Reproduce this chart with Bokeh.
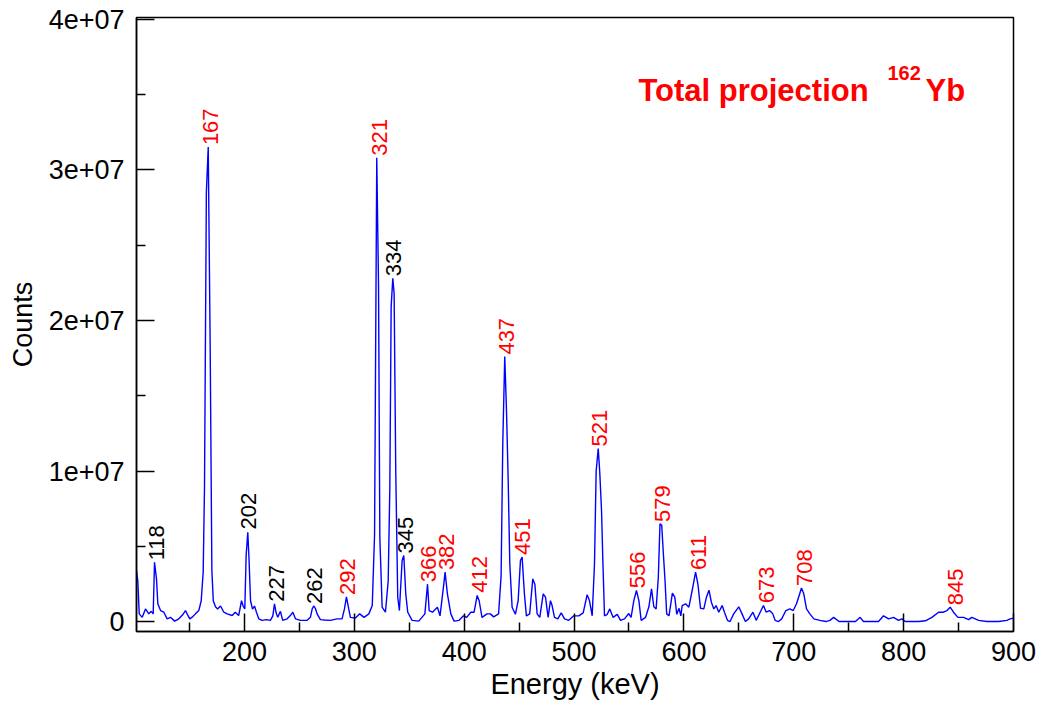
import math
from bokeh.plotting import figure
from bokeh.models import Range1d, FixedTicker, Label, ColumnDataSource
from bokeh.core.properties import value
from bokeh.embed import file_html
from bokeh.resources import INLINE

# ---- spectrum (keV, counts) ----
energy_kev = [
    101.7, 102.9, 104.2, 106.9, 109.9, 112.9, 115.1, 116.9, 118.1, 119.9,
    121.1, 123.6, 126.6, 129.6, 132.6, 136.5, 140.2, 143.5, 146.3, 148.0,
    150.2, 153.0, 155.4, 158.4, 160.6, 162.4, 163.6, 165.3, 167.0, 168.8,
    170.3, 171.6, 173.6, 175.5, 178.2, 181.2, 184.2, 188.8, 191.6, 194.7,
    197.3, 198.8, 200.3, 201.5, 203.0, 204.1, 205.5, 207.3, 209.1, 210.9,
    213.0, 216.0, 220.0, 223.6, 225.8, 227.3, 228.8, 230.3, 232.7, 234.8,
    238.8, 241.5, 244.0, 246.4, 251.0, 257.0, 260.0, 261.6, 263.0, 264.5,
    266.1, 269.1, 273.0, 278.2, 284.3, 288.8, 291.0, 292.8, 294.9, 296.4,
    301.0, 304.9, 308.8, 313.2, 316.3, 318.4, 319.2, 320.4, 322.0, 323.2,
    325.3, 328.3, 330.8, 332.3, 333.5, 335.0, 336.2, 337.7, 339.5, 341.0,
    343.5, 345.0, 346.8, 348.6, 352.6, 358.6, 364.2, 366.6, 368.1, 371.1,
    375.6, 378.0, 381.1, 382.6, 384.7, 387.8, 390.8, 395.4, 399.3, 402.3,
    406.0, 409.0, 411.8, 413.6, 416.2, 420.8, 423.8, 426.8, 431.3, 433.6,
    435.1, 436.9, 438.5, 440.0, 441.5, 443.6, 446.6, 449.1, 451.2, 452.7,
    454.8, 456.6, 459.6, 462.4, 464.3, 466.4, 468.8, 471.9, 474.0, 476.4,
    478.5, 480.0, 482.2, 485.2, 488.3, 491.3, 495.2, 499.7, 504.3, 508.3,
    511.9, 514.0, 516.5, 518.6, 520.1, 522.0, 523.4, 525.0, 526.2, 527.7,
    530.2, 532.5, 535.5, 539.3, 542.3, 545.9, 549.8, 551.9, 554.4, 556.8,
    559.0, 561.1, 565.1, 568.1, 570.5, 572.6, 574.7, 576.7, 578.2, 579.8,
    581.3, 582.8, 584.3, 586.4, 589.5, 591.7, 593.5, 595.6, 597.2, 598.4,
    601.5, 604.5, 607.5, 610.6, 612.7, 615.1, 618.1, 620.5, 622.8, 625.0,
    627.2, 629.3, 631.7, 634.8, 636.9, 639.6, 642.0, 645.3, 649.9, 652.9,
    655.9, 658.9, 662.8, 665.8, 669.4, 672.4, 674.9, 677.9, 680.9, 683.0,
    686.0, 689.0, 692.8, 696.4, 699.5, 702.5, 704.9, 707.0, 709.1, 711.6,
    714.6, 718.3, 723.8, 729.2, 732.9, 736.3, 741.2, 748.6, 756.2, 760.4,
    763.4, 771.0, 777.1, 781.7, 786.3, 790.8, 795.3, 798.4, 801.4, 807.5,
    813.6, 819.7, 825.7, 831.8, 836.3, 839.4, 842.4, 845.4, 849.4, 854.5,
    859.1, 862.1, 868.2, 875.8, 886.4, 894.0, 897.0, 900.0,
]
counts = [
    3.40e6, 2.70e6, 0.53e6, 0.30e6, 0.86e6, 0.53e6, 0.70e6, 0.53e6, 3.95e6, 2.85e6,
    1.20e6, 0.75e6, 0.64e6, 0.20e6, 0.30e6, 0.05e6, 0.20e6, 0.45e6, 0.75e6, 0.50e6,
    0.20e6, 0.35e6, 0.53e6, 0.75e6, 1.40e6, 3.30e6, 8.90e6, 28.5e6, 31.5e6, 18.0e6,
    3.40e6, 1.40e6, 1.00e6, 0.85e6, 1.05e6, 0.64e6, 0.53e6, 0.42e6, 0.64e6, 0.42e6,
    1.40e6, 1.05e6, 0.86e6, 4.40e6, 5.95e6, 4.20e6, 1.40e6, 0.85e6, 1.05e6, 0.64e6,
    0.20e6, 0.10e6, 0.15e6, 0.10e6, 0.40e6, 1.20e6, 0.60e6, 0.30e6, 0.70e6, 0.10e6,
    0.20e6, 0.40e6, 0.64e6, 0.20e6, 0.10e6, 0.10e6, 0.30e6, 0.85e6, 1.05e6, 0.90e6,
    0.53e6, 0.15e6, 0.12e6, 0.10e6, 0.20e6, 0.20e6, 0.86e6, 1.65e6, 0.86e6, 0.30e6,
    0.25e6, 0.53e6, 0.30e6, 0.53e6, 1.08e6, 5.80e6, 15.8e6, 30.8e6, 22.4e6, 5.60e6,
    0.97e6, 0.64e6, 2.70e6, 8.90e6, 20.9e6, 22.8e6, 21.8e6, 9.90e6, 1.63e6, 0.75e6,
    4.07e6, 4.40e6, 1.86e6, 0.64e6, 0.10e6, 0.05e6, 0.53e6, 2.50e6, 0.75e6, 0.64e6,
    0.97e6, 0.40e6, 2.30e6, 3.30e6, 1.86e6, 0.53e6, 0.05e6, 0.10e6, 0.40e6, 0.30e6,
    0.64e6, 0.64e6, 1.75e6, 1.40e6, 0.30e6, 0.53e6, 0.53e6, 0.33e6, 0.53e6, 3.07e6,
    11.8e6, 17.6e6, 14.0e6, 9.50e6, 3.85e6, 0.97e6, 0.50e6, 1.41e6, 4.07e6, 4.30e6,
    1.86e6, 0.40e6, 0.53e6, 2.85e6, 2.50e6, 0.53e6, 0.30e6, 1.86e6, 1.64e6, 0.30e6,
    1.41e6, 1.08e6, 0.30e6, 0.20e6, 0.60e6, 0.20e6, 0.10e6, 0.40e6, 0.40e6, 0.60e6,
    1.80e6, 1.41e6, 0.40e6, 3.85e6, 10.0e6, 11.5e6, 9.90e6, 7.40e6, 4.07e6, 0.40e6,
    0.50e6, 0.86e6, 0.30e6, 0.50e6, 0.10e6, 0.20e6, 0.55e6, 0.30e6, 1.41e6, 2.08e6,
    1.41e6, 0.10e6, 0.30e6, 1.00e6, 2.19e6, 1.00e6, 0.86e6, 2.96e6, 6.50e6, 6.40e6,
    4.50e6, 2.74e6, 0.53e6, 0.40e6, 1.90e6, 1.64e6, 0.50e6, 0.90e6, 0.40e6, 1.08e6,
    1.20e6, 0.97e6, 2.08e6, 3.30e6, 2.52e6, 0.90e6, 0.86e6, 1.64e6, 2.10e6, 1.30e6,
    0.86e6, 1.08e6, 0.64e6, 1.08e6, 0.64e6, 0.10e6, 0.02e6, 0.53e6, 1.00e6, 0.53e6,
    0.02e6, 0.20e6, 0.64e6, 0.10e6, 0.64e6, 1.08e6, 0.64e6, 0.75e6, 0.53e6, 0.10e6,
    0.02e6, 0.20e6, 0.75e6, 0.86e6, 0.75e6, 1.20e6, 1.75e6, 2.25e6, 1.86e6, 0.86e6,
    0.53e6, 0.20e6, 0.10e6, 0.02e6, 0.10e6, 0.30e6, 0.02e6, 0.02e6, 0.02e6, 0.30e6,
    0.02e6, 0.02e6, 0.02e6, 0.40e6, 0.20e6, 0.30e6, 0.10e6, 0.20e6, 0.02e6, 0.02e6,
    0.02e6, 0.07e6, 0.30e6, 0.64e6, 0.64e6, 0.75e6, 0.97e6, 0.64e6, 0.30e6, 0.30e6,
    0.15e6, 0.30e6, 0.10e6, 0.02e6, 0.02e6, 0.10e6, 0.20e6, 0.25e6,
]

# ---- peak labels ----
red_peaks = [167, 292, 321, 366, 382, 412, 437, 451, 521, 556, 579, 611, 673, 708, 845]
red_heights = [31.5e6, 1.65e6, 30.8e6, 2.5e6, 3.3e6, 1.8e6, 17.6e6, 4.3e6, 11.5e6,
               2.1e6, 6.5e6, 3.3e6, 1.1e6, 2.25e6, 0.97e6]
black_peaks = [118, 202, 227, 262, 334, 345]
black_heights = [3.95e6, 6.0e6, 1.2e6, 1.05e6, 22.8e6, 4.4e6]

# ---- axes ----
x_ticks = [200, 300, 400, 500, 600, 700, 800, 900]
x_minor_ticks = [150, 250, 350, 450, 550, 650, 750, 850]
y_ticks = [0, 10000000, 20000000, 30000000, 40000000]
y_tick_labels = ["0", "1e+07", "2e+07", "3e+07", "4e+07"]
y_minor_ticks = [5000000, 15000000, 25000000, 35000000]

FONT = "Liberation Sans"

p = figure(width=1043, height=711, output_backend="svg", toolbar_location=None,
           x_range=Range1d(101.7, 900), y_range=Range1d(-0.64e6, 40.1e6),
           min_border_left=136, min_border_right=30, min_border_top=17,
           min_border_bottom=80)
p.background_fill_color = "white"
p.border_fill_color = "white"
p.outline_line_color = "black"
p.outline_line_width = 1.5
p.xgrid.visible = False
p.ygrid.visible = False

p.line(energy_kev, counts, line_color="#0000ff", line_width=1.4)

red_src = ColumnDataSource(dict(x=red_peaks, y=red_heights, t=[str(v) for v in red_peaks]))
black_src = ColumnDataSource(dict(x=black_peaks, y=black_heights, t=[str(v) for v in black_peaks]))
for src, col in ((red_src, "#ff0000"), (black_src, "black")):
    p.text(x="x", y="y", text="t", source=src, angle=math.pi / 2,
           text_align="left", text_baseline="middle", x_offset=2, y_offset=-2,
           text_color=col, text_font=value(FONT), text_font_size="22px")

# title in the plot
p.add_layout(Label(x=558.6, y=35.26e6, text="Total projection", text_color="#ff0000",
                   text_font=FONT, text_font_size="31px", text_font_style="bold",
                   text_baseline="alphabetic"))
p.add_layout(Label(x=785.3, y=36.45e6, text="162", text_color="#ff0000",
                   text_font=FONT, text_font_size="20px", text_font_style="bold",
                   text_baseline="alphabetic"))
p.add_layout(Label(x=819.9, y=35.26e6, text="Yb", text_color="#ff0000",
                   text_font=FONT, text_font_size="31px", text_font_style="bold",
                   text_baseline="alphabetic"))

for ax in (p.xaxis[0], p.yaxis[0]):
    ax.axis_line_color = "black"
    ax.axis_line_width = 1.5
    ax.major_tick_line_color = "black"
    ax.minor_tick_line_color = "black"
    ax.major_tick_line_width = 1.5
    ax.minor_tick_line_width = 1.5
    ax.major_tick_in = 18
    ax.major_tick_out = 0
    ax.minor_tick_in = 9
    ax.minor_tick_out = 0
    ax.major_label_text_font = FONT
    ax.major_label_text_font_size = "27px"
    ax.major_label_text_color = "black"
    ax.axis_label_text_font = FONT
    ax.axis_label_text_font_size = "29px"
    ax.axis_label_text_font_style = "normal"
    ax.axis_label_text_color = "black"

p.xaxis[0].ticker = FixedTicker(ticks=x_ticks, minor_ticks=x_minor_ticks)
p.yaxis[0].ticker = FixedTicker(ticks=y_ticks, minor_ticks=y_minor_ticks)
p.yaxis[0].major_label_overrides = dict(zip(y_ticks, y_tick_labels))
p.xaxis[0].axis_label = "Energy (keV)"
p.yaxis[0].axis_label = "Counts"
p.yaxis[0].axis_label_text_font_size = "27px"
p.xaxis[0].major_label_standoff = 10
p.yaxis[0].major_label_standoff = 12
p.xaxis[0].axis_label_standoff = 4
p.yaxis[0].axis_label_standoff = 8

open("out.html", "w").write(file_html(p, INLINE))
